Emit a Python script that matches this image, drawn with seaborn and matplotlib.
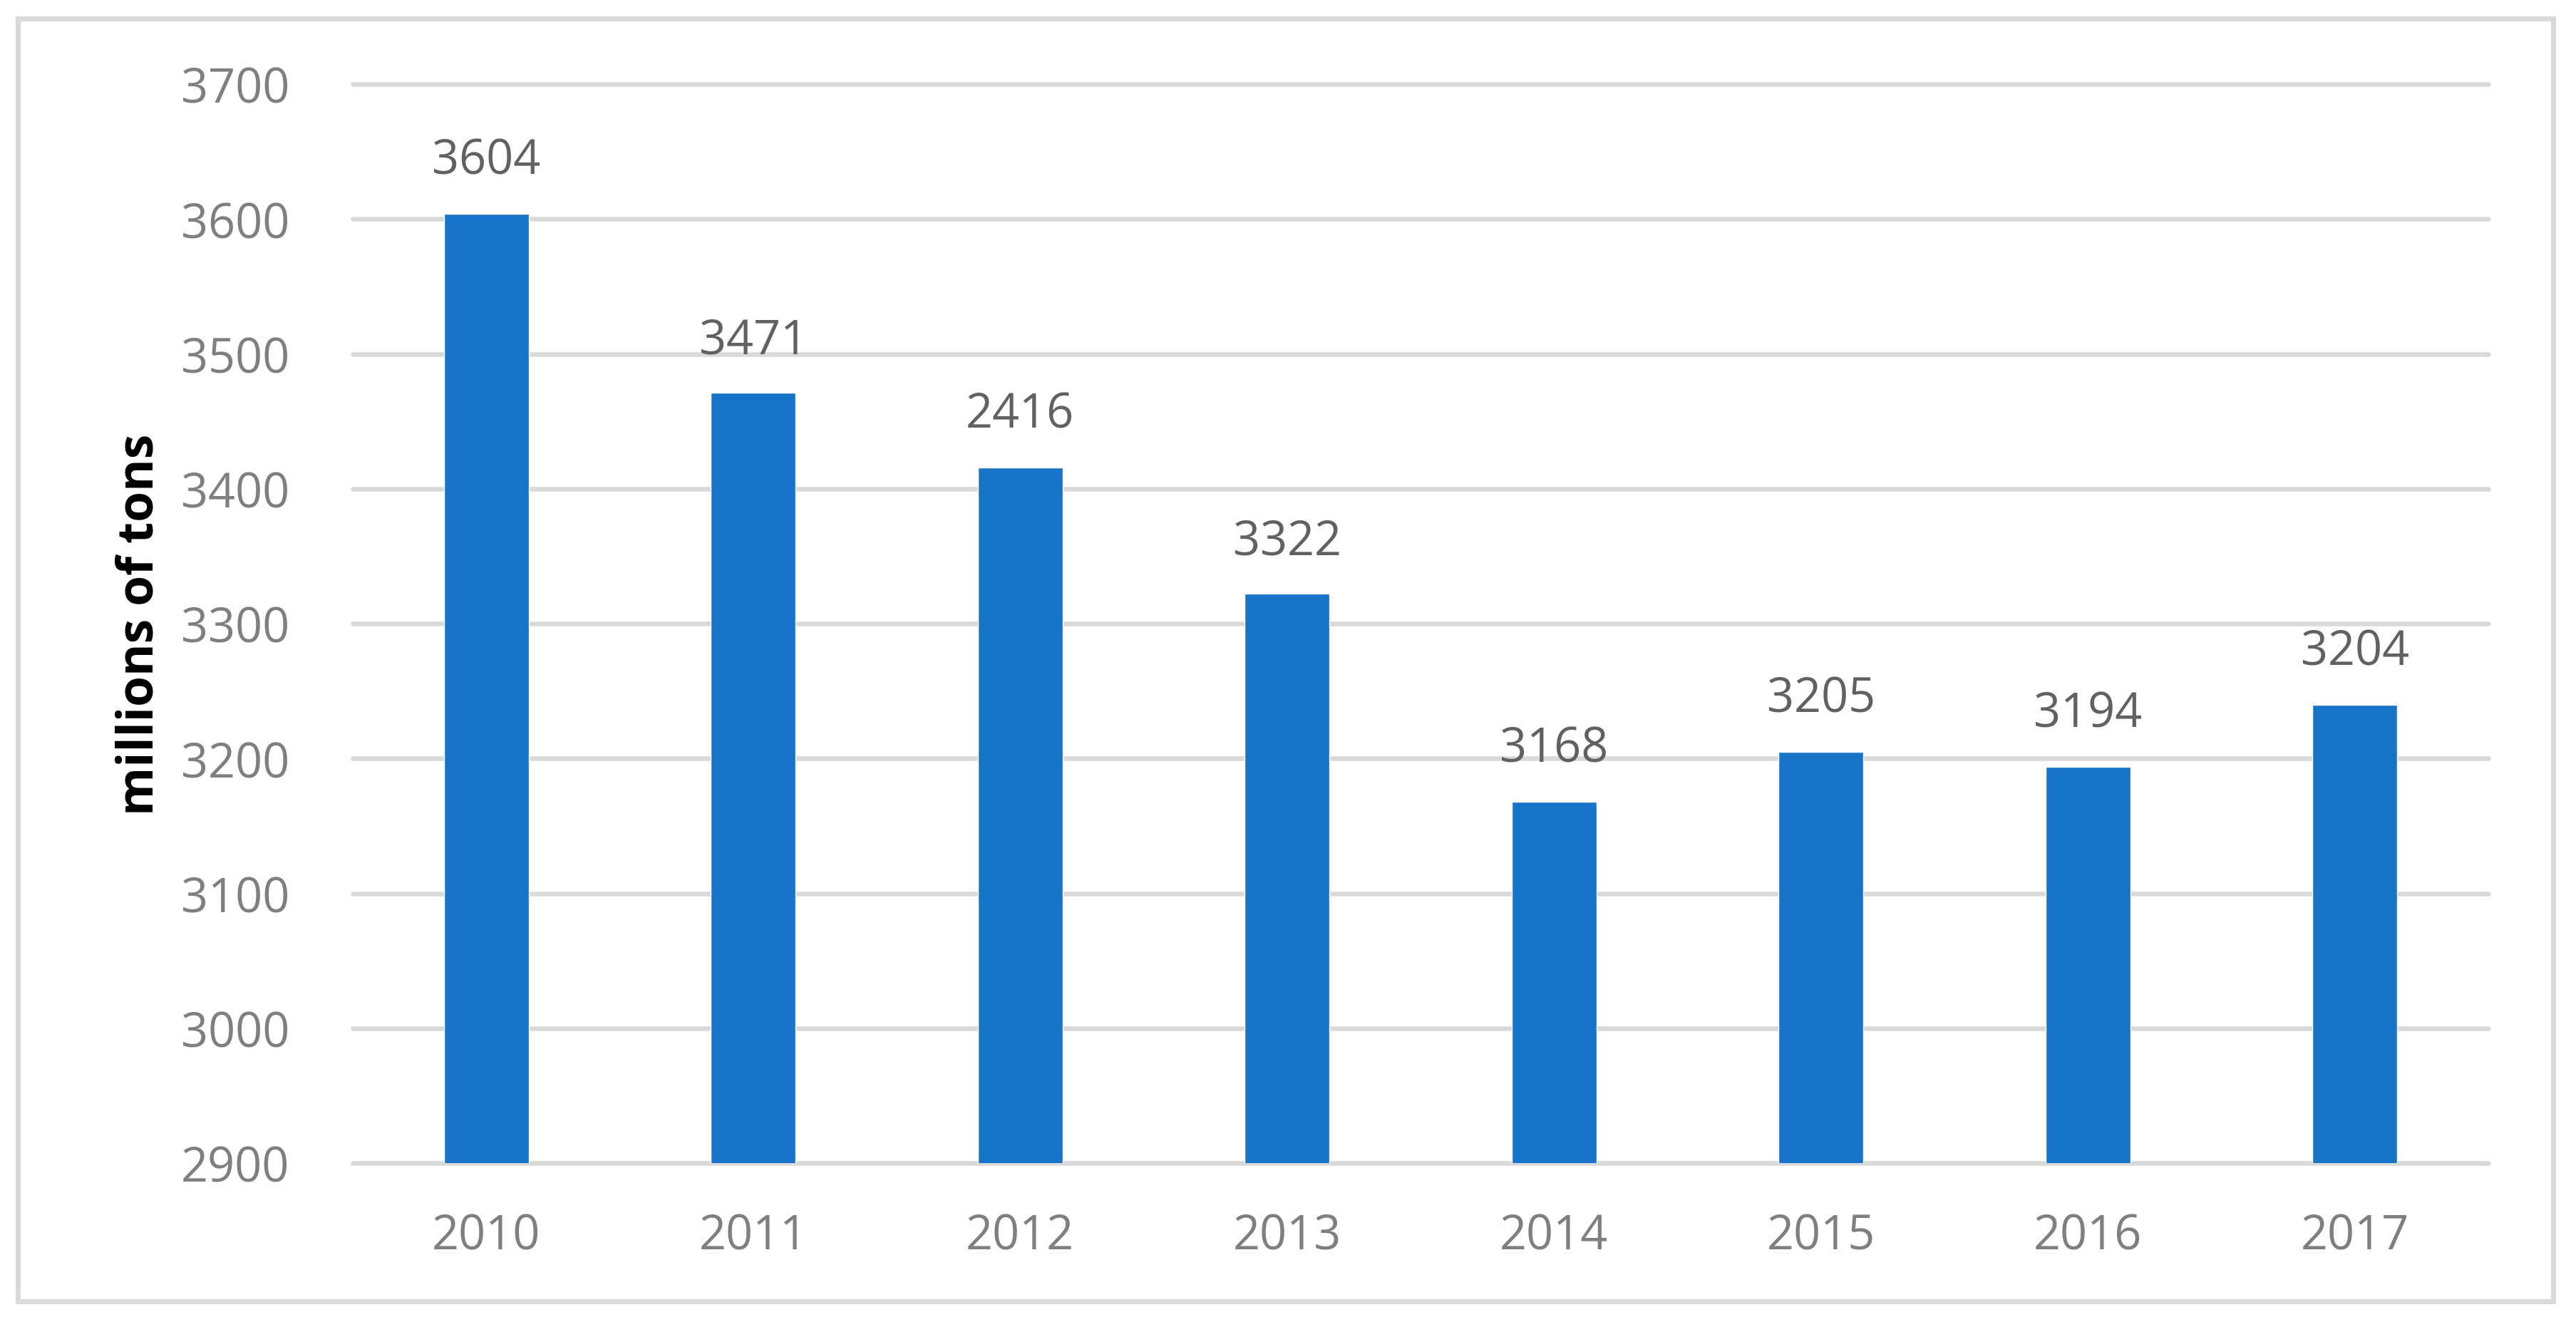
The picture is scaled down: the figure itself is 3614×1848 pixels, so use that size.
import matplotlib
matplotlib.use("Agg")
import matplotlib.pyplot as plt
from matplotlib.patches import Rectangle
import seaborn as sns
import pandas as pd

years = ["2010", "2011", "2012", "2013", "2014", "2015", "2016", "2017"]
tons = [3604, 3471, 3416, 3322, 3168, 3205, 3194, 3240]
# labels printed on the bars (as in the source figure)
bar_labels = ["3604", "3471", "2416", "3322", "3168", "3205", "3194", "3204"]
y_ticks = [2900, 3000, 3100, 3200, 3300, 3400, 3500, 3600, 3700]

BLUE = "#1874C8"
GRID = "#D9D9D9"


def main():
    sns.set_theme(style="white")
    plt.rcParams["font.family"] = ["Open Sans", "DejaVu Sans"]

    df = pd.DataFrame({"year": years, "tons": tons})

    fig = plt.figure(figsize=(36.14, 18.49), dpi=100)
    ax = fig.add_axes([0.137, 0.1168, 0.829, 0.8188])

    sns.barplot(df, x="year", y="tons", color=BLUE, saturation=1,
                width=0.318, ax=ax, zorder=3)

    ax.set_ylim(2900, 3700)
    ax.set_xlim(-0.5, 7.5)
    ax.set_yticks(y_ticks)
    ax.yaxis.grid(True, color=GRID, linewidth=4.7)
    ax.set_axisbelow(True)
    for gl in ax.get_ygridlines():
        gl.set_clip_on(False)
    sns.despine(ax=ax, left=True, bottom=True)

    ax.tick_params(axis="y", length=0, pad=64, labelsize=48, labelcolor="#7F7F7F")
    ax.tick_params(axis="x", length=0, pad=50, labelsize=48, labelcolor="#7F7F7F")
    ax.set_xlabel("")
    ax.set_ylabel("")

    ax.bar_label(ax.containers[0], labels=bar_labels, padding=29,
                 fontsize=48, color="#616161")

    fig.text(0.0545, 0.5262, "millions of tons", rotation=90, ha="center",
             va="center", fontsize=50, fontweight="bold", color="black")

    fig.patches.append(Rectangle((0.0069, 0.0119), 0.9842, 0.9735,
                                 transform=fig.transFigure, fill=False,
                                 edgecolor=GRID, linewidth=5))

    fig.savefig("out.png", dpi=100, facecolor="white")


if __name__ == "__main__":
    main()
